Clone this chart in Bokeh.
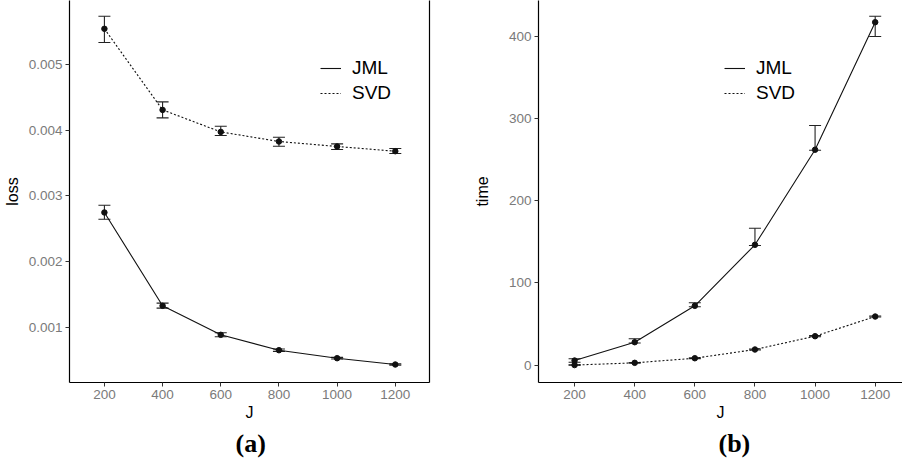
from bokeh.plotting import figure
from bokeh.layouts import row
from bokeh.models import (ColumnDataSource, Whisker, TeeHead, LinearAxis, FixedTicker,
                          PrintfTickFormatter, Range1d, Legend, Title)
from bokeh.embed import file_html
from bokeh.resources import INLINE

# ---------------- data ----------------
J = [200, 400, 600, 800, 1000, 1200]

loss_jml = [0.002747, 0.001326, 0.000884, 0.000650, 0.000528, 0.000432]
loss_jml_lo = [0.002645, 0.001290, 0.000854, 0.000632, 0.000515, 0.000422]
loss_jml_hi = [0.002858, 0.001366, 0.000915, 0.000668, 0.000541, 0.000442]
loss_svd = [0.005544, 0.004309, 0.003974, 0.003828, 0.003752, 0.003680]
loss_svd_lo = [0.005335, 0.004187, 0.003920, 0.003756, 0.003706, 0.003646]
loss_svd_hi = [0.005736, 0.004431, 0.004060, 0.003893, 0.003791, 0.003721]

time_jml = [5.7, 28.0, 72.2, 146.4, 262.0, 417.0]
time_jml_lo = [3.6, 27.0, 71.0, 145.5, 261.4, 399.6]
time_jml_hi = [7.8, 32.1, 75.9, 166.6, 291.4, 424.3]
time_svd = [0.2, 2.9, 8.5, 19.1, 35.3, 59.2]
time_svd_lo = [0.0, 2.5, 8.0, 18.5, 34.6, 58.6]
time_svd_hi = [0.6, 3.3, 9.0, 19.7, 36.0, 59.8]

x_ticks = [200, 400, 600, 800, 1000, 1200]
loss_ticks = [0.001, 0.002, 0.003, 0.004, 0.005]
time_ticks = [0, 100, 200, 300, 400]
series_names = ["JML", "SVD"]
captions = ["(a)", "(b)"]
y_titles = ["loss", "time"]
x_title = "J"

SANS = "Liberation Sans"
SERIF = "Liberation Serif"
TICK_COLOR = "#7a7a7a"
INK = "#111111"


def style_axes(p, yticks, yfmt=None):
    p.xaxis.ticker = FixedTicker(ticks=x_ticks)
    p.yaxis.ticker = FixedTicker(ticks=yticks)
    if yfmt:
        p.yaxis.formatter = PrintfTickFormatter(format=yfmt)
    for ax in (p.xaxis, p.yaxis):
        ax.axis_line_color = "black"
        ax.axis_line_width = 1.2
        ax.major_tick_line_color = "#333333"
        ax.major_tick_in = 0
        ax.major_tick_out = 4
        ax.minor_tick_line_color = None
        ax.major_label_text_font = SANS
        ax.major_label_text_font_size = "13.5px"
        ax.major_label_text_color = TICK_COLOR
        ax.axis_label_text_font = SANS
        ax.axis_label_text_font_size = "16px"
        ax.axis_label_text_font_style = "normal"
        ax.axis_label_text_color = "black"
    p.xaxis.major_label_standoff = 3
    p.xaxis.axis_label_standoff = 2
    p.yaxis.major_label_standoff = 3
    p.yaxis.axis_label_standoff = 5
    p.xaxis.axis_label = x_title
    p.grid.visible = False
    p.outline_line_color = None


def add_series(p, ys, lo, hi, dash):
    src = ColumnDataSource(dict(x=J, y=ys, lo=lo, hi=hi))
    r = p.line("x", "y", source=src, line_color=INK, line_width=1.1,
               line_dash=dash)
    p.scatter("x", "y", source=src, size=5.5, color=INK)
    w = Whisker(base="x", upper="hi", lower="lo", source=src,
                line_color="#222222", line_width=1.1,
                upper_head=TeeHead(size=12, line_color="#222222", line_width=1.1),
                lower_head=TeeHead(size=12, line_color="#222222", line_width=1.1))
    p.add_layout(w)
    return r


def add_legend(p, items, loc):
    lg = Legend(items=items, location=loc, glyph_width=21, glyph_height=22,
                label_height=22, label_standoff=11, spacing=3, padding=0,
                margin=0, border_line_color=None, background_fill_alpha=0,
                label_text_font=SANS, label_text_font_size="19px",
                label_text_color="black")
    p.add_layout(lg)


def add_caption(p, text, offset):
    t = Title(text=text, align="left", offset=offset, standoff=6,
              text_font=SERIF, text_font_size="26px", text_font_style="bold",
              text_color="black")
    p.add_layout(t, "below")


H = 460
FRAME_H = 382

# ---------------- panel (a) ----------------
p1 = figure(width=460, height=H, output_backend="svg", toolbar_location=None,
            x_range=Range1d(80, 1317.6), y_range=Range1d(0.000158, 0.005975),
            min_border_left=68, min_border_right=31, min_border_top=0,
            min_border_bottom=H - FRAME_H)
style_axes(p1, loss_ticks, "%.3f")
p1.yaxis.axis_label = y_titles[0]
r1 = add_series(p1, loss_jml, loss_jml_lo, loss_jml_hi, "solid")
r2 = add_series(p1, loss_svd, loss_svd_lo, loss_svd_hi, "2 2")
add_legend(p1, [(series_names[0], [r1]), (series_names[1], [r2])], (251, 278))
rax = LinearAxis(ticker=FixedTicker(ticks=[]), major_label_text_font_size="0px",
                 axis_line_color="black", axis_line_width=1.2,
                 major_tick_line_color=None, minor_tick_line_color=None)
p1.add_layout(rax, "right")
add_caption(p1, captions[0], 166)

# ---------------- panel (b) ----------------
p2 = figure(width=442, height=H, output_backend="svg", toolbar_location=None,
            x_range=Range1d(80, 1290.8), y_range=Range1d(-21.0, 443.4),
            min_border_left=78, min_border_right=0, min_border_top=0,
            min_border_bottom=H - FRAME_H)
style_axes(p2, time_ticks)
p2.yaxis.axis_label = y_titles[1]
p2.yaxis.axis_label_standoff = 15
r3 = add_series(p2, time_jml, time_jml_lo, time_jml_hi, "solid")
r4 = add_series(p2, time_svd, time_svd_lo, time_svd_hi, "2 2")
add_legend(p2, [(series_names[0], [r3]), (series_names[1], [r4])], (186, 278))
add_caption(p2, captions[1], 180)

layout = row(p1, p2)
open("out.html", "w").write(file_html(layout, INLINE))
